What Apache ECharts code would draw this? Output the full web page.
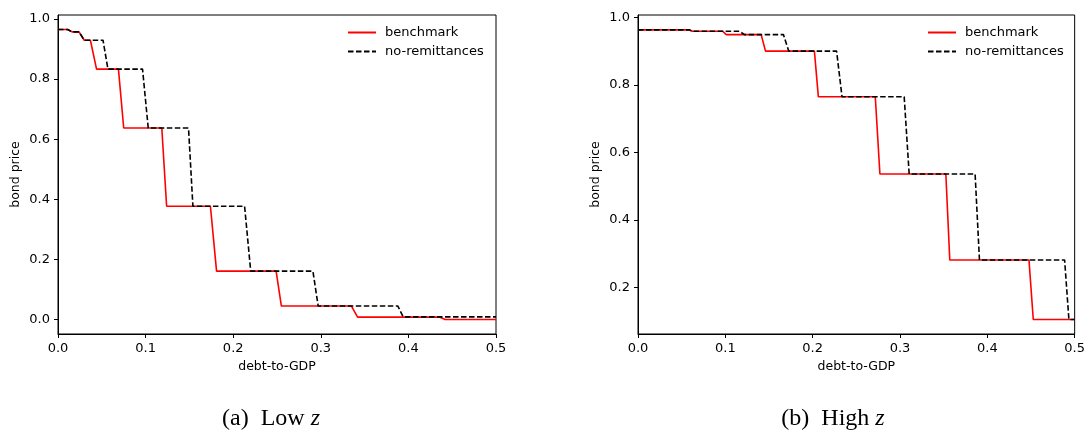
<!DOCTYPE html>
<html>
<head>
<meta charset="utf-8">
<script src="https://cdn.jsdelivr.net/npm/echarts@6/dist/echarts.min.js"></script>
<style>
html,body{margin:0;padding:0;background:#fff;}
#chart{width:1088px;height:434px;}
</style>
</head>
<body>
<div id="chart"></div>
<script>
// ---- data ----
const seriesNames = ['benchmark', 'no-remittances'];
const xTicks = [0.0, 0.1, 0.2, 0.3, 0.4, 0.5];
const leftYTicks = [0.0, 0.2, 0.4, 0.6, 0.8, 1.0];
const rightYTicks = [0.2, 0.4, 0.6, 0.8, 1.0];
const captions = ['(a)', 'Low', '(b)', 'High'];

// (a) Low z
const leftBenchX = [0, 0.011, 0.016, 0.024, 0.030, 0.037, 0.044, 0.069, 0.075, 0.1185, 0.124, 0.174, 0.181, 0.249, 0.255, 0.335, 0.342, 0.436, 0.442, 0.5];
const leftBenchY = [0.965, 0.965, 0.957, 0.957, 0.929, 0.929, 0.833, 0.833, 0.637, 0.637, 0.377, 0.377, 0.161, 0.161, 0.045, 0.045, 0.008, 0.008, 0.0, 0.0];
const leftNoRemX = [0, 0.011, 0.016, 0.024, 0.030, 0.0514, 0.057, 0.0965, 0.103, 0.149, 0.154, 0.213, 0.220, 0.291, 0.297, 0.388, 0.394, 0.5];
const leftNoRemY = [0.965, 0.965, 0.957, 0.957, 0.929, 0.929, 0.833, 0.833, 0.637, 0.637, 0.377, 0.377, 0.161, 0.161, 0.045, 0.045, 0.009, 0.009];

// (b) High z
const rightBenchX = [0, 0.059, 0.062, 0.097, 0.101, 0.141, 0.146, 0.202, 0.2065, 0.2717, 0.277, 0.3525, 0.357, 0.4477, 0.4526, 0.5];
const rightBenchY = [0.963, 0.963, 0.959, 0.959, 0.949, 0.949, 0.900, 0.900, 0.765, 0.765, 0.536, 0.536, 0.281, 0.281, 0.105, 0.105];
const rightNoRemX = [0, 0.059, 0.062, 0.116, 0.122, 0.1665, 0.1726, 0.2274, 0.2336, 0.3048, 0.3105, 0.386, 0.391, 0.4885, 0.4934, 0.5];
const rightNoRemY = [0.963, 0.963, 0.959, 0.959, 0.949, 0.949, 0.900, 0.900, 0.765, 0.765, 0.536, 0.536, 0.281, 0.281, 0.105, 0.105];

// ---- chart ----
const zip = (xs, ys) => xs.map((x, i) => [x, ys[i]]);
const font = 'DejaVu Sans';
const fmt = v => Number(v).toFixed(1);

function xAxis(gi) {
  return {
    type: 'value', gridIndex: gi, min: 0, max: 0.5, interval: 0.1,
    name: 'debt-to-GDP', nameLocation: 'middle', nameGap: 25,
    nameTextStyle: { fontFamily: font, fontSize: 12.5, color: '#000' },
    axisLine: { show: true, onZero: false, lineStyle: { color: '#000', width: 1 } },
    axisTick: { show: true, length: 4, lineStyle: { color: '#000' }, customValues: xTicks },
    axisLabel: { fontFamily: font, fontSize: 13, color: '#000', margin: 8, formatter: fmt, customValues: xTicks },
    splitLine: { show: false }
  };
}
function yAxis(gi, min, max, ticks) {
  return {
    type: 'value', gridIndex: gi, min: min, max: max,
    name: 'bond price', nameLocation: 'middle', nameGap: 36, nameRotate: 90,
    nameTextStyle: { fontFamily: font, fontSize: 12.5, color: '#000' },
    axisLine: { show: true, onZero: false, lineStyle: { color: '#000', width: 1 } },
    axisTick: { show: true, length: 4, lineStyle: { color: '#000' }, customValues: ticks },
    axisLabel: { fontFamily: font, fontSize: 13, color: '#000', margin: 8, formatter: fmt, customValues: ticks },
    splitLine: { show: false }
  };
}
function legend(left) {
  return {
    data: seriesNames, orient: 'vertical', left: left, top: 26, padding: 0,
    itemWidth: 28, itemHeight: 13, itemGap: 6,
    itemStyle: { opacity: 0 },
    textStyle: { fontFamily: font, fontSize: 13, color: '#000', padding: [0, 0, 0, 4] },
    selectedMode: false
  };
}
function series(name, gi, data) {
  const bench = name === seriesNames[0];
  return {
    name: name, type: 'line', xAxisIndex: gi, yAxisIndex: gi,
    data: data, symbol: 'none', showSymbol: false, animation: false,
    lineStyle: bench ? { color: '#ff0000', width: 1.6 } : { color: '#000', width: 1.6, type: [5.5, 2.5] },
    itemStyle: { color: bench ? '#ff0000' : '#000' },
    z: bench ? 2 : 3
  };
}

const capStyle = {
  fontFamily: 'Liberation Serif', fontSize: 24, fontWeight: 'normal', color: '#000',
  rich: { i: { fontFamily: 'Liberation Serif', fontSize: 24, fontStyle: 'italic', color: '#000' } }
};

const chart = echarts.init(document.getElementById('chart'), null, { renderer: 'canvas' });
chart.setOption({
  backgroundColor: '#fff',
  animation: false,
  grid: [
    { left: 58, top: 15, width: 438, height: 319, show: true, borderColor: '#000', borderWidth: 1, backgroundColor: 'transparent' },
    { left: 638, top: 15, width: 438, height: 319, show: true, borderColor: '#000', borderWidth: 1, backgroundColor: 'transparent' }
  ],
  xAxis: [xAxis(0), xAxis(1)],
  yAxis: [yAxis(0, -0.048, 1.013, leftYTicks), yAxis(1, 0.062, 1.007, rightYTicks)],
  legend: [legend(347), legend(927)],
  title: [
    { text: captions[0] + '  ' + captions[1] + ' {i|z}', left: 266, top: 402, textAlign: 'center', textStyle: capStyle },
    { text: captions[2] + '  ' + captions[3] + ' {i|z}', left: 828, top: 402, textAlign: 'center', textStyle: capStyle }
  ],
  series: [
    series(seriesNames[0], 0, zip(leftBenchX, leftBenchY)),
    series(seriesNames[1], 0, zip(leftNoRemX, leftNoRemY)),
    series(seriesNames[0], 1, zip(rightBenchX, rightBenchY)),
    series(seriesNames[1], 1, zip(rightNoRemX, rightNoRemY))
  ]
});
</script>
</body>
</html>
